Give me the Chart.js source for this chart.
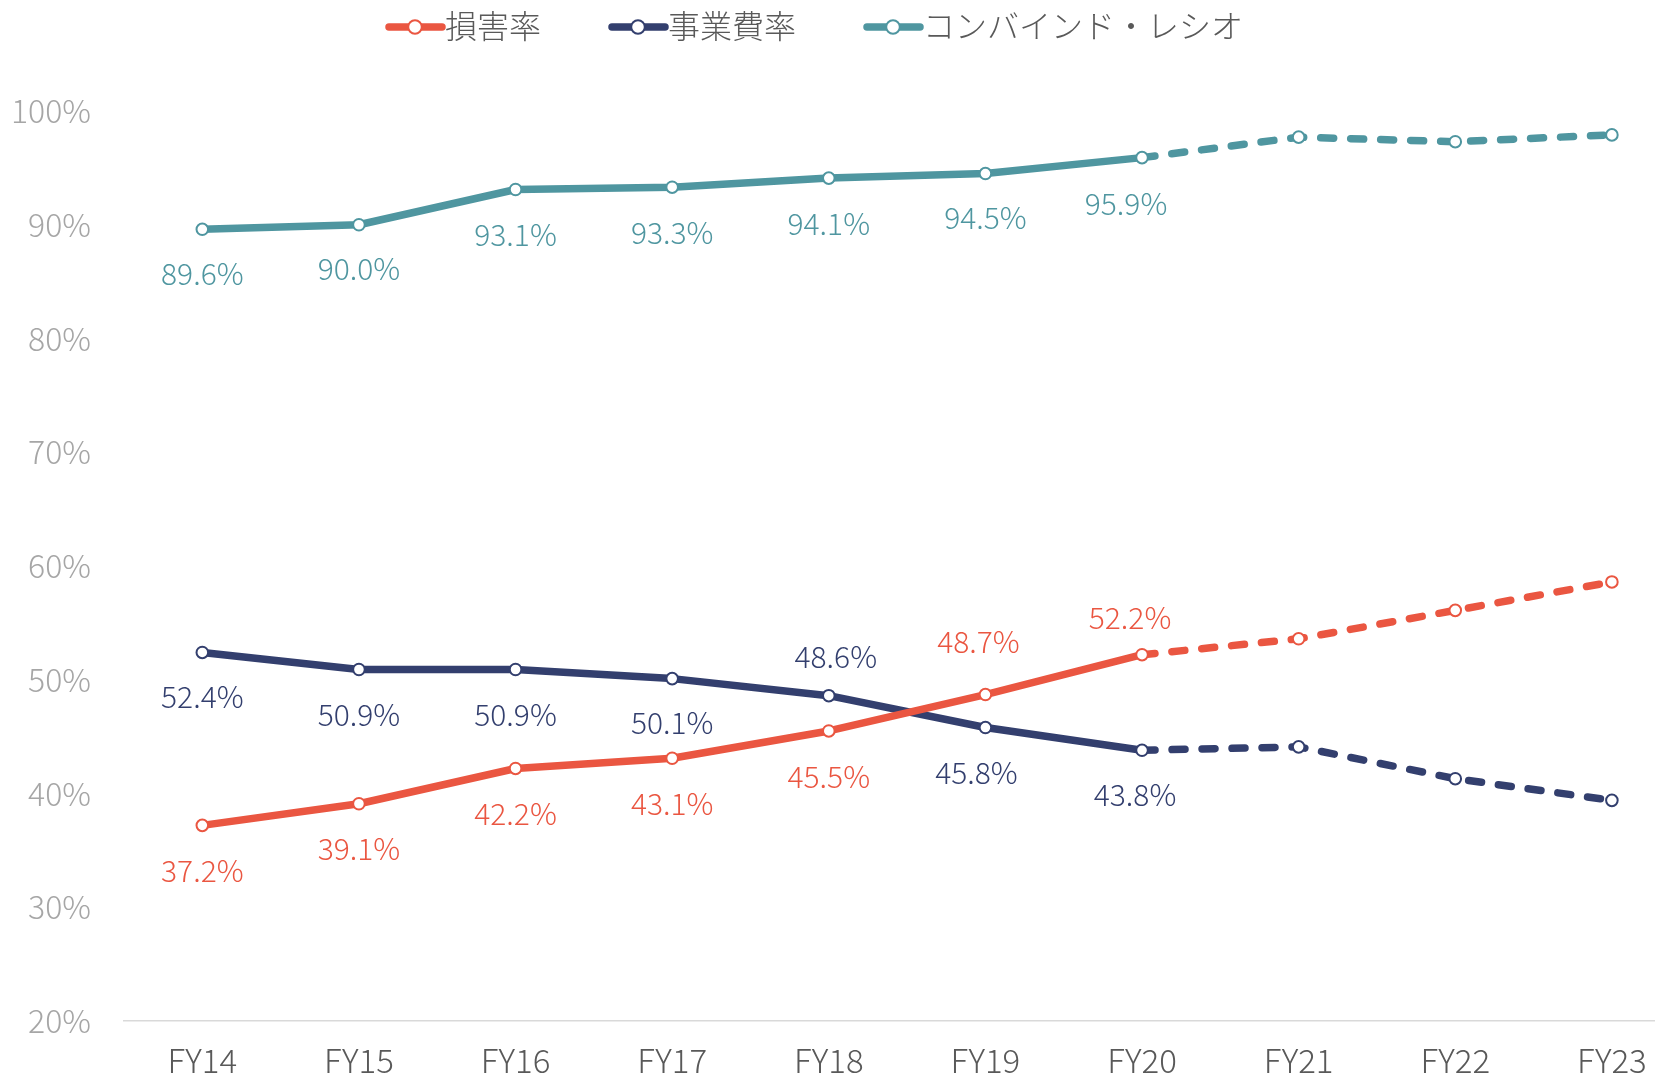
<!DOCTYPE html>
<html>
<head>
<meta charset="utf-8">
<script src="https://cdn.jsdelivr.net/npm/chart.js@4.4.1/dist/chart.umd.min.js"></script>
<style>
html,body{margin:0;padding:0;overflow:hidden;background:#fff;}
#wrap{position:relative;width:1698px;height:1078px;}
</style>
</head>
<body>
<div id="wrap"><canvas id="c"></canvas></div>
<script>
// ---- data ----
const categories = ['FY14','FY15','FY16','FY17','FY18','FY19','FY20','FY21','FY22','FY23'];
const lossRatio = [37.2, 39.1, 42.2, 43.1, 45.5, 48.7, 52.2, 53.6, 56.1, 58.6];
const expenseRatio = [52.4, 50.9, 50.9, 50.1, 48.6, 45.8, 43.8, 44.1, 41.3, 39.4];
const combinedRatio = [89.6, 90.0, 93.1, 93.3, 94.1, 94.5, 95.9, 97.7, 97.3, 97.9];
const seriesNames = ['損害率', '事業費率', 'コンバインド・レシオ'];
const yTickValues = [20, 30, 40, 50, 60, 70, 80, 90, 100];
const lastActualIndex = 6; // FY20: labelled; dashed afterwards

// ---- styles ----
const colors = ['#EA5641', '#333F6E', '#4F96A0'];
const FONT = '"Noto Sans CJK JP", "Noto Sans", sans-serif';
// label offsets (pixels) relative to the point, per series
const labelOffsets = [
  { dy: [45, 45, 45, 45, 46, -53, -37], dx: [0, 0, 0, 0, 0, -7, -12] },
  { dy: [44, 45, 45, 44, -39, 45, 44], dx: [0, 0, 0, 0, 7, -9, -7] },
  { dy: [44, 44, 45, 45, 45, 44, 46], dx: [0, 0, 0, 0, 0, 0, -16] }
];

function makeDataset(label, data, color) {
  return {
    label: label,
    data: data,
    borderColor: color,
    backgroundColor: color,
    borderWidth: 7.5,
    borderCapStyle: 'round',
    borderJoinStyle: 'round',
    tension: 0,
    pointRadius: 5.8,
    pointHoverRadius: 5.8,
    pointBorderWidth: 2,
    pointBackgroundColor: '#ffffff',
    pointBorderColor: color,
    segment: {
      borderDash: ctx => ctx.p0DataIndex >= lastActualIndex ? [13, 17] : undefined
    }
  };
}

const dataLabelPlugin = {
  id: 'dataLabels',
  afterDatasetsDraw(chart) {
    const ctx = chart.ctx;
    ctx.save();
    ctx.font = '300 30px ' + FONT;
    ctx.textAlign = 'center';
    ctx.textBaseline = 'middle';
    chart.data.datasets.forEach((ds, di) => {
      const meta = chart.getDatasetMeta(di);
      ctx.fillStyle = colors[di];
      meta.data.forEach((pt, i) => {
        if (i > lastActualIndex) return;
        const off = labelOffsets[di];
        ctx.fillText(ds.data[i].toFixed(1) + '%', pt.x + off.dx[i], pt.y + off.dy[i]);
      });
    });
    ctx.restore();
  }
};

const legendPlugin = {
  id: 'customLegend',
  afterDraw(chart) {
    const ctx = chart.ctx;
    ctx.save();
    ctx.font = '300 32px ' + FONT;
    ctx.textBaseline = 'middle';
    ctx.textAlign = 'left';
    let x = 386;
    const y = 27;
    chart.data.datasets.forEach((ds, di) => {
      const c = colors[di];
      ctx.strokeStyle = c;
      ctx.lineWidth = 7.5;
      ctx.lineCap = 'round';
      ctx.beginPath();
      ctx.moveTo(x + 3, y);
      ctx.lineTo(x + 56, y);
      ctx.stroke();
      ctx.beginPath();
      ctx.arc(x + 29, y, 6.8, 0, Math.PI * 2);
      ctx.fillStyle = '#fff';
      ctx.fill();
      ctx.lineWidth = 2;
      ctx.stroke();
      ctx.fillStyle = '#595959';
      ctx.fillText(ds.label, x + 59, y - 1);
      x += 59 + ctx.measureText(ds.label).width + 68;
    });
    ctx.restore();
  }
};

new Chart(document.getElementById('c'), {
  type: 'line',
  data: {
    labels: categories,
    datasets: [
      makeDataset(seriesNames[0], lossRatio, colors[0]),
      makeDataset(seriesNames[1], expenseRatio, colors[1]),
      makeDataset(seriesNames[2], combinedRatio, colors[2])
    ]
  },
  options: {
    responsive: true,
    maintainAspectRatio: false,
    animation: false,
    events: [],
    layout: { padding: { top: 111, left: 0, right: 0, bottom: 0 } },
    plugins: {
      legend: { display: false },
      tooltip: { enabled: false }
    },
    scales: {
      x: {
        offset: true,
        grid: { display: false, drawTicks: false },
        border: { display: true, color: '#D9D9D9', width: 1.5 },
        ticks: {
          color: '#595959',
          font: { family: FONT, size: 33, weight: 300 },
          padding: 20,
          maxRotation: 0,
          autoSkip: false
        },
        afterFit(scale) { scale.height = 57; }
      },
      y: {
        min: 20,
        max: 100,
        grid: { display: false, drawTicks: false },
        border: { display: false },
        afterBuildTicks(scale) { scale.ticks = yTickValues.map(v => ({ value: v })); },
        ticks: {
          color: '#A6A6A6',
          font: { family: FONT, size: 32, weight: 300 },
          padding: 33,
          callback: v => v + '%'
        },
        afterFit(scale) { scale.width = 124; }
      }
    }
  },
  plugins: [dataLabelPlugin, legendPlugin]
});
</script>
</body>
</html>
